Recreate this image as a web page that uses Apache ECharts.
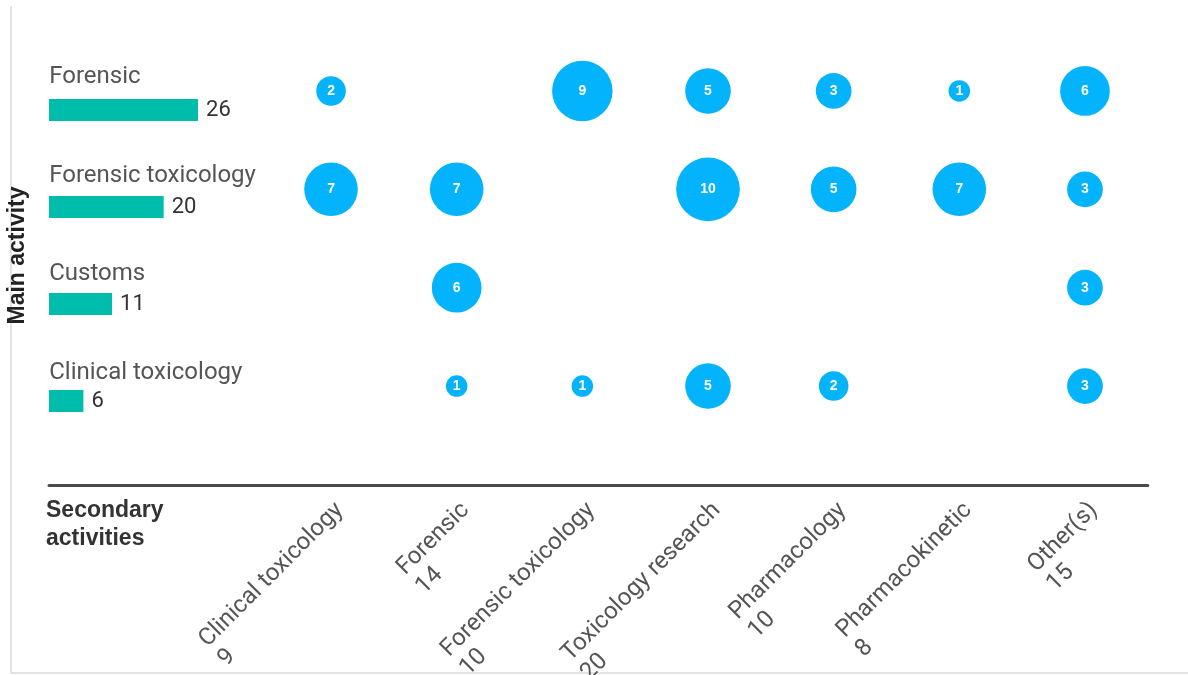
<!DOCTYPE html>
<html>
<head>
<meta charset="utf-8">
<script src="https://cdn.jsdelivr.net/npm/echarts@6/dist/echarts.min.js"></script>
<style>html,body{margin:0;padding:0;background:#fff}#c{width:1188px;height:675px}</style>
</head>
<body>
<div id="c"></div>
<script>
const rowNames = ['Forensic', 'Forensic toxicology', 'Customs', 'Clinical toxicology'];
const rowTotals = [26, 20, 11, 6];
const colNames = ['Clinical toxicology', 'Forensic', 'Forensic toxicology', 'Toxicology research', 'Pharmacology', 'Pharmacokinetic', 'Other(s)'];
const colTotals = [9, 14, 10, 20, 10, 8, 15];
const forensicRow = [2, null, 9, 5, 3, 1, 6];
const forensicToxRow = [7, 7, null, 10, 5, 7, 3];
const customsRow = [null, 6, null, null, null, null, 3];
const clinicalToxRow = [null, 1, 1, 5, 2, null, 3];
const matrix = [forensicRow, forensicToxRow, customsRow, clinicalToxRow];

const bubbleData = [];
matrix.forEach((row, r) => row.forEach((v, c) => { if (v != null) bubbleData.push([c, r, v]); }));

const chart = echarts.init(document.getElementById('c'));
const lineColor = '#4a4a4a';
chart.setOption({
  animation: false,
  title: {
    text: 'Secondary\nactivities', left: 46, top: 497, padding: 0,
    textStyle: { fontFamily: 'Liberation Sans, Arial', fontWeight: 'bold', fontSize: 23, lineHeight: 28, color: '#333' }
  },
  graphic: [
    { type: 'line', shape: { x1: 11, y1: 6, x2: 11, y2: 673 }, style: { stroke: '#c8c8c8', lineWidth: 1 } },
    { type: 'line', shape: { x1: 11, y1: 673, x2: 1188, y2: 673 }, style: { stroke: '#c8c8c8', lineWidth: 1 } }
  ],
  grid: [
    { left: 268.2, right: 40.2, top: 41.8, height: 393.4, outerBoundsMode: 'none', containLabel: false },
    { left: 49, width: 219, top: 61.5, height: 388, outerBoundsMode: 'none', containLabel: false }
  ],
  xAxis: [
    {
      type: 'category', gridIndex: 0, data: colNames, offset: 50,
      axisLine: { show: true, lineStyle: { color: lineColor, width: 3 } },
      axisTick: { show: false }, splitLine: { show: false },
      axisLabel: {
        interval: 0, rotate: 45, margin: 7, align: 'right', verticalAlign: 'top', padding: [3, 4, 0, 0],
        formatter: (v, i) => '{n|' + v + '}\n{n|' + colTotals[i] + '}',
        rich: { n: { align: 'left', fontFamily: 'Roboto', fontSize: 24, lineHeight: 27, color: '#555' } }
      }
    },
    {
      type: 'value', gridIndex: 1, min: 0, max: 38.2, offset: 35.5,
      axisLine: { show: true, lineStyle: { color: lineColor, width: 3 } },
      axisTick: { show: false }, axisLabel: { show: false }, splitLine: { show: false }
    }
  ],
  yAxis: [
    {
      type: 'category', gridIndex: 0, data: rowNames, inverse: true,
      axisLine: { show: false }, axisTick: { show: false }, splitLine: { show: false },
      axisLabel: { margin: 219, align: 'left', verticalAlign: 'bottom', fontFamily: 'Roboto', fontSize: 24, lineHeight: 27, color: '#555' }
    },
    {
      type: 'category', gridIndex: 1, data: rowNames, inverse: true,
      axisLine: { show: false }, axisTick: { show: false }, axisLabel: { show: false }, splitLine: { show: false },
      name: 'Main activity', nameLocation: 'middle', nameGap: 20, nameRotate: 90, nameMoveOverlap: false,
      nameTextStyle: { fontFamily: 'Liberation Sans, Arial', fontWeight: 'bold', fontSize: 23, color: '#222' }
    }
  ],
  series: [
    {
      type: 'scatter', xAxisIndex: 0, yAxisIndex: 0, data: bubbleData,
      symbolSize: d => 2 + 19.5 * Math.sqrt(d[2]),
      itemStyle: { color: '#03b4fd', opacity: 1 },
      label: { show: true, position: 'inside', formatter: p => p.data[2], color: '#fff', fontWeight: 'bold', fontSize: 14, fontFamily: 'Liberation Sans, Arial' }
    },
    {
      type: 'bar', xAxisIndex: 1, yAxisIndex: 1, data: rowTotals, barWidth: 22,
      itemStyle: { color: '#00bdab' },
      label: { show: true, position: 'right', distance: 8, fontFamily: 'Roboto', fontSize: 22, color: '#333' }
    }
  ]
});
</script>
</body>
</html>
